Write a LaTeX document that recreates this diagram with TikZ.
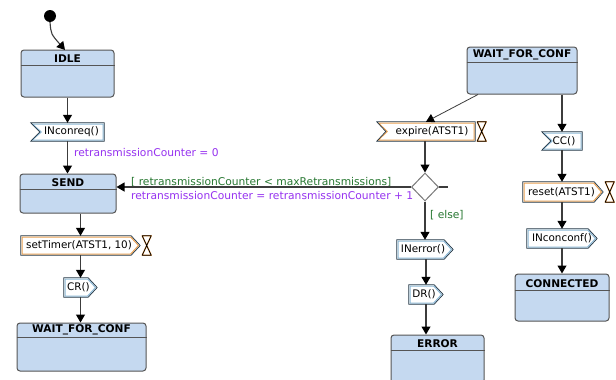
\documentclass[tikz,border=0pt]{standalone}
\usepackage{fontspec}
\setmainfont{DejaVu Sans}
\usetikzlibrary{shapes.geometric,arrows.meta}

\definecolor{statefill}{RGB}{197,217,240}
\definecolor{stateline}{RGB}{85,85,85}
\definecolor{edgecol}{RGB}{60,60,60}
\definecolor{actpurple}{RGB}{150,50,240}
\definecolor{guardgreen}{RGB}{40,120,50}
\definecolor{timerorange}{RGB}{235,160,80}
\definecolor{sigblue}{RGB}{140,185,215}
\definecolor{sigdark}{RGB}{35,55,70}
\definecolor{decgray}{RGB}{120,120,120}

\tikzset{
  statebox/.style={rectangle, rounded corners=3pt, draw=stateline, line width=1pt, fill=statefill, inner sep=0},
  statehead/.style={font=\fontsize{10.6}{13}\selectfont\bfseries, inner sep=0, anchor=base},
  sigbox/.style={rectangle, inner sep=0, minimum height=19pt, font=\fontsize{10.4}{12}\selectfont},
  edgeline/.style={draw=edgecol, line width=1.1pt, -{Triangle[length=8pt,width=9pt,color=black]}},
  plainline/.style={draw=edgecol, line width=1.1pt},
  lbl/.style={anchor=west, inner sep=0},
}

\newcommand\umlstate[7]{%
  \node[statebox, minimum width=#4pt, minimum height=#5pt] (#1) at (#2,#3) {};
  \draw[stateline, line width=1pt] ([yshift=-#6pt]#1.north west) -- ([yshift=-#6pt]#1.north east);
  \node[statehead] (#1-name) at ([yshift={-#6pt+3.2pt}]#1.north) {#7};
}
\newcommand\sendshape[2]{%
  \draw[#2, line width=1pt, line join=round] ([shift={(1.2pt,-1.2pt)}]#1.north west) -- ([shift={(-9.5pt,-1.2pt)}]#1.north east) -- ([xshift=-1.7pt]#1.east) -- ([shift={(-9.5pt,1.2pt)}]#1.south east) -- ([shift={(1.2pt,1.2pt)}]#1.south west) -- cycle;
  \draw[sigdark, line width=0.7pt] (#1.north west) -- ([xshift=-9pt]#1.north east) -- (#1.east) -- ([xshift=-9pt]#1.south east) -- (#1.south west) -- cycle;
}
\newcommand\receiveshape[2]{%
  \draw[#2, line width=1pt, line join=round] ([shift={(1.5pt,-1.2pt)}]#1.north west) -- ([shift={(-1.2pt,-1.2pt)}]#1.north east) -- ([shift={(-1.2pt,1.2pt)}]#1.south east) -- ([shift={(1.5pt,1.2pt)}]#1.south west) -- ([xshift=10.5pt]#1.west) -- cycle;
  \draw[sigdark, line width=0.7pt] (#1.north west) -- (#1.north east) -- (#1.south east) -- (#1.south west) -- ([xshift=9pt]#1.west) -- cycle;
}
\newcommand\hourglass[1]{%
  \draw[timerorange, line width=1.3pt, line join=round] ([xshift=2pt]#1.north east) -- ([xshift=11pt]#1.north east) -- ([xshift=2pt]#1.south east) -- ([xshift=11pt]#1.south east) -- cycle;
  \draw[black, line width=0.7pt, line join=round] ([xshift=2pt]#1.north east) -- ([xshift=11pt]#1.north east) -- ([xshift=2pt]#1.south east) -- ([xshift=11pt]#1.south east) -- cycle;
}

\begin{document}
\begin{tikzpicture}[x=1pt, y=-1pt, font=\fontsize{10.7}{12.5}\selectfont]
\fill[white] (0,0) rectangle (616,380);
\useasboundingbox (0,0) rectangle (616,380);

% states
\umlstate{idle}{67.5}{73.5}{93}{47}{16}{IDLE}
\umlstate{send}{68}{193.5}{96}{39}{16}{SEND}
\umlstate{wfcA}{81.5}{347}{129}{48}{15}{\raisebox{1.5pt}{WAIT\_FOR\_CONF}}
\umlstate{wfcB}{522}{70.5}{110}{47}{16}{\raisebox{1.5pt}{WAIT\_FOR\_CONF}}
\umlstate{err}{437.5}{359}{93}{48}{16}{ERROR}
\umlstate{conn}{562}{297.5}{94}{47}{17}{CONNECTED}

% initial
\node[circle, fill=black, minimum size=12pt, inner sep=0] (init) at (50,16) {};
\coordinate (idleIn) at (65,50);

% signals
\node[sigbox, minimum width=73pt, minimum height=18pt] (inconreq) at (67.5,132) {\hspace*{8pt}INconreq()};
\receiveshape{inconreq}{sigblue}
\node[sigbox, minimum width=119pt] (settimer) at (80.5,245.5) {\hspace*{-3pt}setTimer(ATST1, 10)};
\sendshape{settimer}{timerorange}
\hourglass{settimer}
\node[sigbox, minimum width=33pt] (cr) at (80.5,287.5) {\hspace*{-4pt}CR()};
\sendshape{cr}{sigblue}

\node[sigbox, minimum width=98pt] (expire) at (426,131.5) {\hspace*{12pt}expire(ATST1)};
\receiveshape{expire}{timerorange}
\hourglass{expire}
\node[diamond, draw=decgray, fill=white, line width=1pt, minimum width=27pt, minimum height=28pt, inner sep=0] (dec) at (425,187) {};
\coordinate (stub) at (448,187);
\node[sigbox, minimum width=56pt] (inerror) at (425,249.5) {\hspace*{-4pt}INerror()};
\sendshape{inerror}{sigblue}
\node[sigbox, minimum width=34pt] (dr) at (426,294.5) {\hspace*{-4pt}DR()};
\sendshape{dr}{sigblue}

\node[sigbox, minimum width=40pt, minimum height=18pt] (cc) at (562,141) {\hspace*{4pt}CC()};
\receiveshape{cc}{sigblue}
\node[sigbox, minimum width=80pt, minimum height=20pt] (reset) at (563,192) {\hspace*{-3pt}reset(ATST1)};
\sendshape{reset}{timerorange}
\hourglass{reset}
\node[sigbox, minimum width=70pt] (inconconf) at (562,238.5) {INconconf()};
\sendshape{inconconf}{sigblue}

% labels
\node[lbl, text=actpurple] (lblinit) at (74,153) {retransmissionCounter = 0};
\node[lbl, text=guardgreen] (lblguard) at (131,182) {[ retransmissionCounter < maxRetransmissions]};
\node[lbl, text=actpurple] (lblinc) at (131,196) {retransmissionCounter = retransmissionCounter + 1};
\node[lbl, text=guardgreen] (lblelse) at (430,215) {[ else]};

% connectors
\draw[edgeline] (init.south) .. controls (51,34) .. (idleIn);
\draw[edgeline] (idle.south -| inconreq.north) -- (inconreq.north);
\draw[edgeline] (inconreq.south) -- (inconreq.south |- send.north);
\draw[edgeline] (send.south -| settimer.north) -- (settimer.north);
\draw[edgeline] (settimer.south) -- (cr.north);
\draw[edgeline] (cr.south) -- (cr.south |- wfcA.north);

\draw[edgeline, line width=0.8pt] ([xshift=-44pt]wfcB.south) -- (expire.north);
\draw[edgeline] (wfcB.south -| cc.north) -- (cc.north);
\draw[edgeline] (expire.south -| dec.north) -- (dec.north);
\draw[edgeline] (dec.west) -- (send.east |- dec.west);
\draw[plainline] (dec.east) -- (stub);
\draw[edgeline] (dec.south) -- (dec.south |- inerror.north);
\draw[edgeline] (inerror.south -| dr.north) -- (dr.north);
\draw[edgeline] (dr.south) -- (dr.south |- err.north);
\draw[edgeline] (cc.south) -- (cc.south |- reset.north);
\draw[edgeline] (reset.south -| inconconf.north) -- (inconconf.north);
\draw[edgeline] (inconconf.south) -- (inconconf.south |- conn.north);
\end{tikzpicture}
\end{document}
